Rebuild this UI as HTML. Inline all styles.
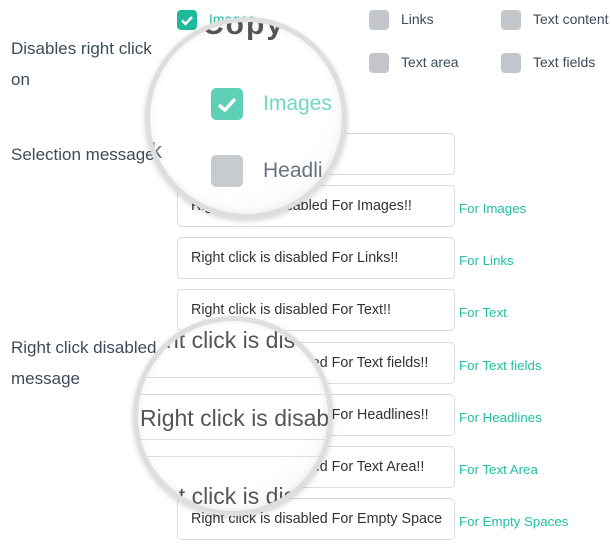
<!DOCTYPE html>
<html><head><style>
body{margin:0;width:611px;height:547px;background:#fff;position:relative;overflow:hidden;font-family:"Liberation Sans",sans-serif;color:#3e4a5a}
.a{position:absolute;white-space:nowrap}
.lbl{font-size:17px;line-height:31px}
.cb{position:absolute;width:20px;height:20px;border-radius:4px;background:#c3c7cb}
.cb.on{background:#1fb99b}
.ct{position:absolute;font-size:14px;color:#3e4a5a}
.box{position:absolute;left:177px;border:1px solid #dcdcdc;border-radius:5px;background:#fff;font-size:14.3px;line-height:40px;padding-left:13px;box-sizing:border-box;width:278px;height:42px;color:#333}
.for{position:absolute;left:459px;font-size:13.3px;color:#1fbfa4}
.lens{position:absolute;border-radius:50%;border:5px solid #dedede;background:radial-gradient(circle at 40% 35%,#fff 60%,#f2f2f2 100%);box-shadow:0 2px 6px rgba(0,0,0,.18), inset 0 0 8px rgba(0,0,0,.08);overflow:hidden;box-sizing:border-box}
</style></head><body>
<div class="a lbl" style="left:11px;top:33px">Disables right click<br>on</div>
<div class="a lbl" style="left:11px;top:139px">Selection message</div>
<div class="a lbl" style="left:11px;top:332px">Right click disabled<br>message</div>

<div class="cb on" style="left:177px;top:10px"><svg width="20" height="20"><path d="M5 10.5l3.5 3.5 6.5-7" stroke="#fff" stroke-width="2.5" fill="none"/></svg></div>
<div class="ct" style="left:209px;top:11px;color:#1fbfa4">Images</div>
<div class="cb" style="left:369px;top:10px"></div><div class="ct" style="left:401px;top:11px">Links</div>
<div class="cb" style="left:501px;top:10px"></div><div class="ct" style="left:533px;top:11px">Text content</div>
<div class="cb" style="left:369px;top:53px"></div><div class="ct" style="left:401px;top:54px">Text area</div>
<div class="cb" style="left:501px;top:53px"></div><div class="ct" style="left:533px;top:54px">Text fields</div>

<div class="box" style="top:133px"></div>
<div class="box" style="top:185px">Right click is disabled For Images!!</div><div class="for" style="top:201px">For Images</div>
<div class="box" style="top:237px">Right click is disabled For Links!!</div><div class="for" style="top:253px">For Links</div>
<div class="box" style="top:289px">Right click is disabled For Text!!</div><div class="for" style="top:305px">For Text</div>
<div class="box" style="top:342px">Right click is disabled For Text fields!!</div><div class="for" style="top:358px">For Text fields</div>
<div class="box" style="top:394px">Right click is disabled For Headlines!!</div><div class="for" style="top:410px">For Headlines</div>
<div class="box" style="top:446px">Right click is disabled For Text Area!!</div><div class="for" style="top:462px">For Text Area</div>
<div class="box" style="top:498px">Right click is disabled For Empty Space</div><div class="for" style="top:514px">For Empty Spaces</div>

<div class="lens" style="left:145px;top:17px;width:202px;height:202px">
 <div class="a" style="left:52px;top:-14px;font-size:30px;color:#555;font-weight:bold;letter-spacing:2px">Copy</div>
 <div style="position:absolute;left:61px;top:66px;width:32px;height:32px;border-radius:5px;background:#5fd0b6"><svg width="32" height="32"><path d="M8 17l6 5 10-11" stroke="#fff" stroke-width="3.5" fill="none"/></svg></div>
 <div class="a" style="left:113px;top:70px;font-size:21px;color:#6fd8c2">Images</div>
 <div style="position:absolute;left:61px;top:133px;width:32px;height:32px;border-radius:5px;background:#c8cbce"></div>
 <div class="a" style="left:113px;top:137px;font-size:21px;color:#6a7380">Headli</div>
 <div class="a" style="left:-10px;top:116px;font-size:22px;color:#6a7380">ck</div>
</div>

<div class="lens" style="left:133px;top:316px;width:200px;height:200px">
 <div class="a" style="left:28px;top:6px;font-size:23px;color:#555">ht click is dis</div>
 <div style="position:absolute;left:0;right:0;top:56px;height:16px;border-top:1px solid #ddd;border-bottom:1px solid #ddd"></div>
 <div class="a" style="left:2px;top:84px;font-size:23px;color:#555">Right click is disabl</div>
 <div style="position:absolute;left:0;right:0;top:118px;height:16px;border-top:1px solid #ddd;border-bottom:1px solid #ddd"></div>
 <div class="a" style="left:28px;top:162px;font-size:23px;color:#555">ht click is dis</div>
</div>
</body></html>
